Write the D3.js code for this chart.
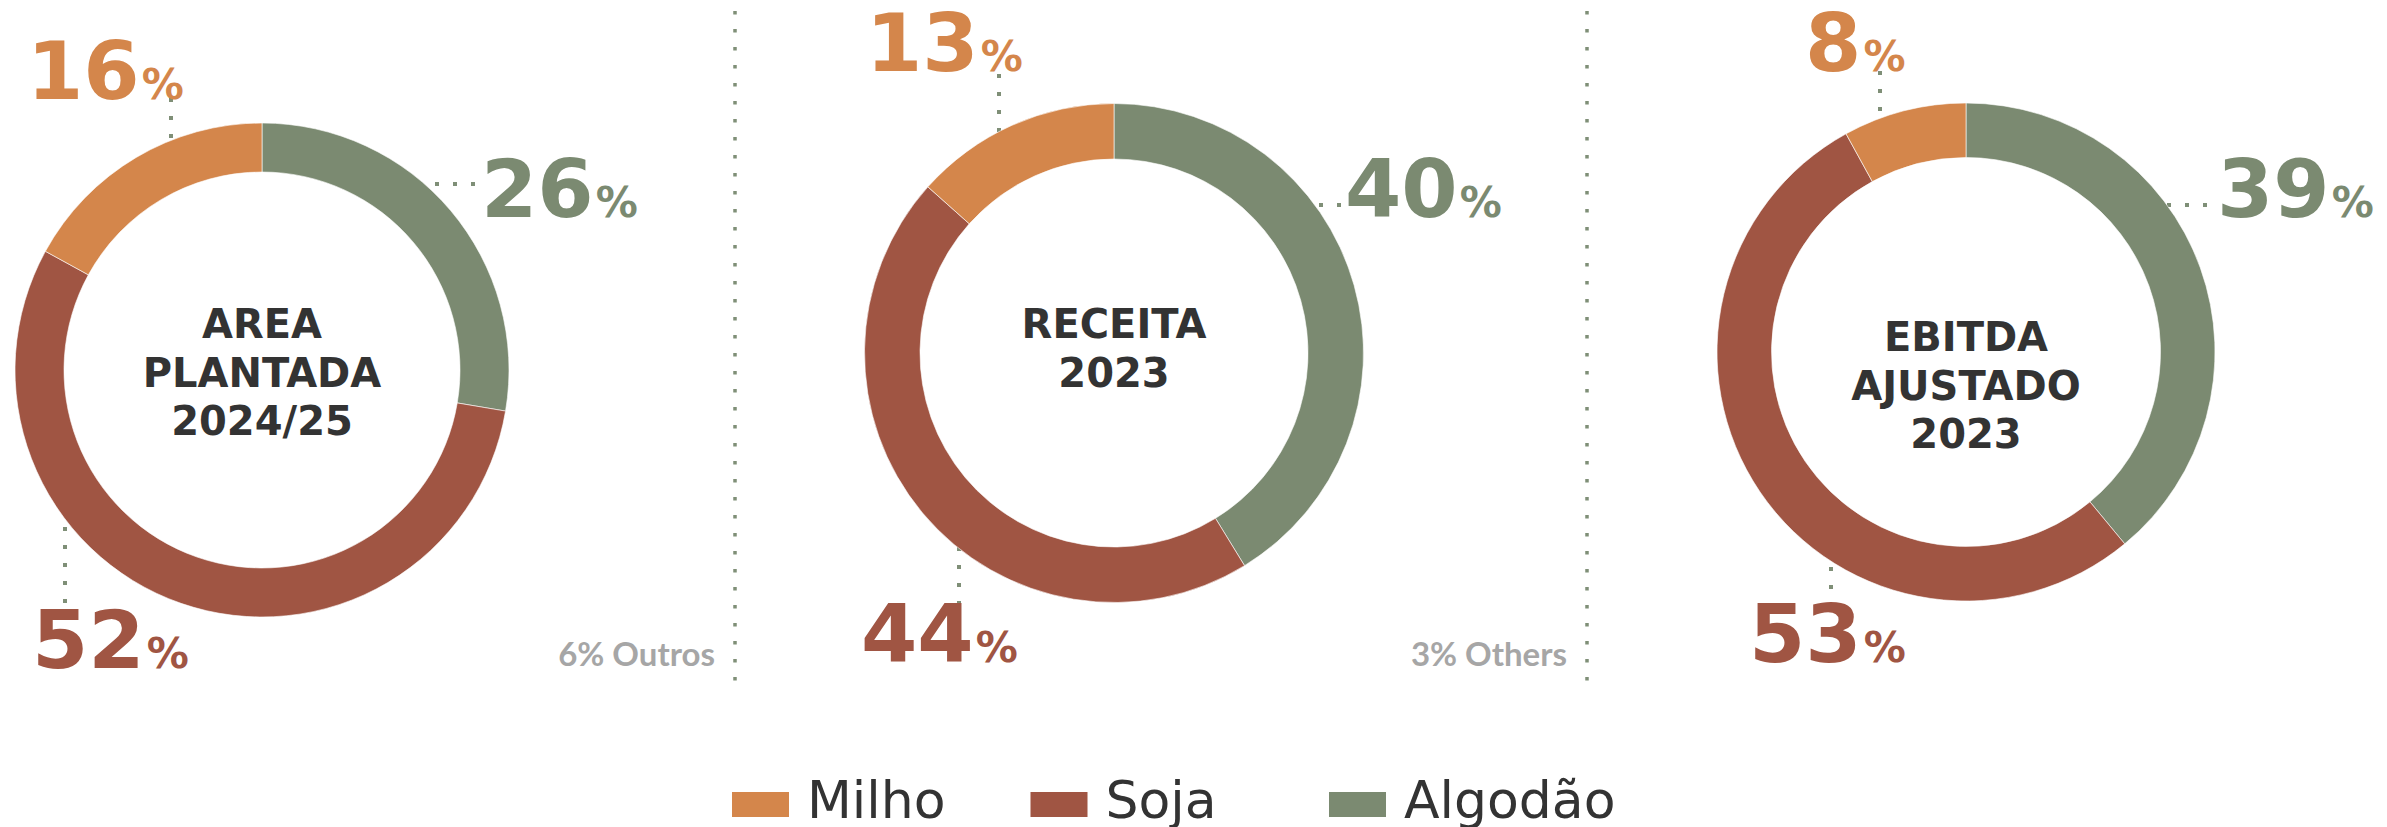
<!DOCTYPE html>
<html>
<head>
<meta charset="utf-8">
<script src="https://cdn.jsdelivr.net/npm/d3@7"></script>
<style>
  body { margin: 0; background: #fff; }
  svg { display: block; }
</style>
</head>
<body>
<svg id="chart" width="2387" height="827"></svg>
<script>
// data
const categories = ['Milho', 'Soja', 'Algodão'];
const panels = ['area', 'receita', 'ebitda'];
const panelTitles = [['AREA', 'PLANTADA', '2024/25'], ['RECEITA', '2023'], ['EBITDA', 'AJUSTADO', '2023']];
const milho = [16, 13, 8];
const soja = [52, 44, 53];
const algodao = [26, 40, 39];
const otherNotes = ['6% Outros', '3% Others'];

const colors = { 'Milho': '#d4864b', 'Soja': '#a05543', 'Algodão': '#7b8a71' };
const dotColor = '#7f8f77';

// layout (per panel)
const centerY = [370, 353, 352];
const radii = [[198, 247], [194, 249.5], [194.5, 249]];
const titleY = [338, 338, 351];
// label text offset and dotted leader, relative to ring centre
const labelPos = [
  { 'Milho': { t: [-235, -271], l: [-91, -272, -91, -216] },
    'Algodão': { t: [219, -153], l: [173, -186, 222, -186] },
    'Soja': { t: [-230, 298], l: [-197, 139, -197, 233] } },
  { 'Milho': { t: [-248, -282], l: [-115, -279, -115, -219] },
    'Algodão': { t: [231, -136], l: [205, -148, 234, -148] },
    'Soja': { t: [-253, 309], l: [-155, 194, -155, 258] } },
  { 'Milho': { t: [-161, -281], l: [-86, -281, -86, -238] },
    'Algodão': { t: [251, -135], l: [201, -147, 254, -147] },
    'Soja': { t: [-217, 310], l: [-135, 215, -135, 252] } }
];

const svg = d3.select('#chart');
const x = d3.scalePoint().domain(panels).range([262, 1966]);

const pie = d3.pie().sort(null).value(d => d.v);

panels.forEach((p, i) => {
  const cx = x(p), cy = centerY[i];
  const g = svg.append('g').attr('transform', `translate(${cx},${cy})`);
  const slices = [
    { k: 'Algodão', v: algodao[i] },
    { k: 'Soja', v: soja[i] },
    { k: 'Milho', v: milho[i] }
  ];
  const arc = d3.arc().innerRadius(radii[i][0]).outerRadius(radii[i][1]);

  // leaders under everything
  slices.forEach(s => {
    const l = labelPos[i][s.k].l;
    g.append('line')
      .attr('x1', l[0]).attr('y1', l[1]).attr('x2', l[2]).attr('y2', l[3])
      .attr('stroke', dotColor).attr('stroke-width', 4)
      .attr('stroke-dasharray', '4 14');
  });

  g.selectAll('.slice').data(pie(slices)).enter().append('path')
    .attr('class', 'slice')
    .attr('d', arc)
    .attr('fill', d => colors[d.data.k])
    .attr('stroke', '#fff').attr('stroke-width', 0.6);

  // percentage labels
  slices.forEach(s => {
    const t = labelPos[i][s.k].t;
    const txt = g.append('text')
      .attr('x', t[0]).attr('y', t[1])
      .attr('font-family', 'DejaVu Sans, Verdana, sans-serif')
      .attr('font-weight', 'bold')
      .attr('fill', colors[s.k]);
    txt.append('tspan').attr('font-size', 81).text(s.v);
    txt.append('tspan').attr('font-size', 42).attr('dx', 2).text('%');
  });

  // centre title
  g.selectAll('.title').data(panelTitles[i]).enter().append('text')
    .attr('x', 0)
    .attr('y', (d, j) => titleY[i] - cy + j * 48.5)
    .attr('text-anchor', 'middle')
    .attr('font-family', 'DejaVu Sans, Verdana, sans-serif')
    .attr('font-weight', 'bold')
    .attr('font-size', 40)
    .attr('fill', '#333')
    .text(d => d);
});

// dotted separators + "others" notes
const sepX = [1, 2].map(i => (x(panels[i - 1]) + x(panels[i])) / 2 + 47);
sepX.forEach((sx, i) => {
  svg.append('line')
    .attr('x1', sx).attr('x2', sx).attr('y1', 11).attr('y2', 682)
    .attr('stroke', dotColor).attr('stroke-width', 3.5)
    .attr('stroke-dasharray', '3.5 14.5');
  svg.append('text')
    .attr('x', sx - 20).attr('y', 666)
    .attr('text-anchor', 'end')
    .attr('font-family', 'Lato, sans-serif')
    .attr('font-weight', 'bold')
    .attr('font-size', 33)
    .attr('fill', '#a6a6a6')
    .text(otherNotes[i]);
});

// legend
const lx = d3.scalePoint().domain(categories).range([732, 1329]);
const leg = svg.selectAll('.leg').data(categories).enter().append('g')
  .attr('transform', d => `translate(${lx(d)},0)`);
leg.append('rect')
  .attr('x', 0).attr('y', 792).attr('width', 57).attr('height', 25)
  .attr('fill', d => colors[d]);
leg.append('text')
  .attr('x', 75).attr('y', 818)
  .attr('font-family', 'DejaVu Sans, Verdana, sans-serif')
  .attr('font-size', 52)
  .attr('fill', '#333')
  .text(d => d);
</script>
</body>
</html>
